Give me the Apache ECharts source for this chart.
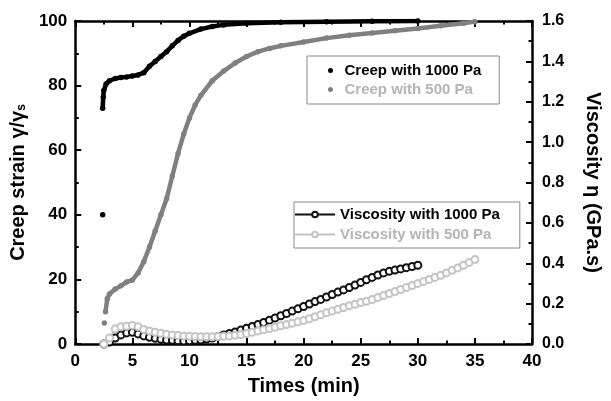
<!DOCTYPE html>
<html>
<head>
<meta charset="utf-8">
<script src="https://cdn.jsdelivr.net/npm/echarts@6/dist/echarts.min.js"></script>
<style>
html,body{margin:0;padding:0;background:#fff;}
#c{width:611px;height:401px;}
</style>
</head>
<body>
<div id="c"></div>
<script>
// ---- data ----
const seriesNames = ['Creep with 1000 Pa', 'Creep with 500 Pa', 'Viscosity with 1000 Pa', 'Viscosity with 500 Pa'];

// Creep 1000 Pa (time min, strain %) ; null = gap between isolated dots
const creep1000Time   = [2.4, 2.4, 2.4, 2.45, 2.5, 2.7, 3, 3.5, 4, 4.5, 5, 5.5, 6, 6.5, 7, 7.5, 8, 8.5, 9, 9.5, 10, 11, 12, 13, 15, 18, 22, 26, 30];
const creep1000Strain = [40, null, 73, 76.5, 78.5, 80.5, 81.5, 82.2, 82.5, 82.7, 83, 83.3, 84, 86, 87.5, 89, 90.5, 92.3, 94, 95.3, 96.2, 97.5, 98.3, 98.8, 99.3, 99.6, 99.8, 99.9, 100];

// Creep 500 Pa
const creep500Time   = [2.55, 2.6, 2.65, 2.8, 3, 3.5, 4, 4.5, 5, 5.5, 6, 6.5, 7, 7.5, 8, 8.5, 9, 9.5, 10, 10.5, 11, 12, 13, 14, 15, 16, 17, 18, 20, 22, 24, 26, 28, 30, 32, 34, 35];
const creep500Strain = [6.5, null, 10, 14, 15.5, 17, 18, 19.2, 19.8, 22, 25.5, 30, 35, 40, 45, 52, 59, 65, 70, 74, 77, 81.5, 84.5, 87, 89, 90.5, 91.5, 92.3, 93.5, 94.7, 95.6, 96.3, 97, 97.7, 98.5, 99.3, 99.8];

// Viscosity 1000 Pa (GPa.s), every 0.5 min from 2.5 to 30
const visc1000Time  = [2.5, 3, 3.5, 4, 4.5, 5, 5.5, 6, 6.5, 7, 7.5, 8, 8.5, 9, 9.5, 10, 10.5, 11, 11.5, 12, 12.5, 13, 13.5, 14, 14.5, 15, 15.5, 16, 16.5, 17, 17.5, 18, 18.5, 19, 19.5, 20, 20.5, 21, 21.5, 22, 22.5, 23, 23.5, 24, 24.5, 25, 25.5, 26, 26.5, 27, 27.5, 28, 28.5, 29, 29.5, 30];
const visc1000Value = [0, 0.01, 0.03, 0.045, 0.055, 0.058, 0.05, 0.04, 0.033, 0.028, 0.024, 0.02, 0.018, 0.016, 0.015, 0.016, 0.018, 0.02, 0.025, 0.03, 0.037, 0.045, 0.052, 0.06, 0.069, 0.078, 0.087, 0.097, 0.107, 0.118, 0.129, 0.14, 0.151, 0.163, 0.174, 0.186, 0.198, 0.21, 0.221, 0.233, 0.245, 0.257, 0.268, 0.28, 0.292, 0.305, 0.318, 0.33, 0.342, 0.352, 0.36, 0.366, 0.372, 0.378, 0.384, 0.39];

// Viscosity 500 Pa (GPa.s), every 0.5 min from 2.5 to 35
const visc500Time  = [2.5, 3, 3.5, 4, 4.5, 5, 5.5, 6, 6.5, 7, 7.5, 8, 8.5, 9, 9.5, 10, 10.5, 11, 11.5, 12, 12.5, 13, 13.5, 14, 14.5, 15, 15.5, 16, 16.5, 17, 17.5, 18, 18.5, 19, 19.5, 20, 20.5, 21, 21.5, 22, 22.5, 23, 23.5, 24, 24.5, 25, 25.5, 26, 26.5, 27, 27.5, 28, 28.5, 29, 29.5, 30, 30.5, 31, 31.5, 32, 32.5, 33, 33.5, 34, 34.5, 35];
const visc500Value = [0, 0.03, 0.075, 0.085, 0.088, 0.092, 0.085, 0.072, 0.064, 0.058, 0.053, 0.048, 0.045, 0.042, 0.04, 0.038, 0.037, 0.036, 0.036, 0.036, 0.037, 0.038, 0.04, 0.043, 0.047, 0.052, 0.058, 0.064, 0.07, 0.077, 0.083, 0.09, 0.096, 0.103, 0.11, 0.116, 0.125, 0.135, 0.145, 0.155, 0.163, 0.172, 0.181, 0.19, 0.197, 0.205, 0.212, 0.22, 0.23, 0.24, 0.25, 0.26, 0.27, 0.28, 0.29, 0.3, 0.31, 0.32, 0.33, 0.34, 0.352, 0.365, 0.377, 0.39, 0.404, 0.418];

// axis ranges [min, max, interval]
const xRange = [0, 40, 5];
const strainRange = [0, 100, 20];
const viscRange = [0, 1.6, 0.2];

function zip(t, v) { return t.map((x, i) => [x, v[i] === null ? '-' : v[i]]); }

const FONT = '"Liberation Sans", Arial, sans-serif';
const axisCommon = {
  axisLine: { show: true, onZero: false, lineStyle: { color: '#000', width: 2.5 } },
  axisTick: { show: true, inside: true, length: 6, lineStyle: { color: '#000', width: 2 } },
  minorTick: { show: true, splitNumber: 2, length: 3.5, lineStyle: { color: '#000', width: 2 } },
  splitLine: { show: false },
  axisLabel: { color: '#000', fontFamily: FONT, fontWeight: 'bold', fontSize: 17 }
};

const chart = echarts.init(document.getElementById('c'), null, { renderer: 'canvas' });
chart.setOption({
  animation: false,
  backgroundColor: '#fff',
  grid: { left: 72, right: 73, top: 21, bottom: 54, containLabel: false },
  legend: [
    {
      left: 307, top: 56, orient: 'vertical',
      padding: [7, 18, 7, 21], itemGap: 4,
      borderColor: '#888', borderWidth: 1,
      itemWidth: 18, itemHeight: 5,
      textStyle: { fontFamily: FONT, fontWeight: 'bold', fontSize: 15 },
      data: [
        { name: seriesNames[0], icon: 'circle', textStyle: { color: '#000' } },
        { name: seriesNames[1], icon: 'circle', textStyle: { color: '#b4b4b4' } }
      ]
    },
    {
      left: 294, top: 202, orient: 'vertical',
      padding: [5, 20, 6, 0], itemGap: 5,
      borderColor: '#888', borderWidth: 1,
      itemWidth: 40, itemHeight: 7,
      textStyle: { fontFamily: FONT, fontWeight: 'bold', fontSize: 15 },
      data: [
        { name: seriesNames[2], textStyle: { color: '#000' } },
        { name: seriesNames[3], textStyle: { color: '#b4b4b4' } }
      ]
    }
  ],
  xAxis: [
    Object.assign({}, axisCommon, {
      type: 'value', min: xRange[0], max: xRange[1], interval: xRange[2], position: 'bottom',
      name: 'Times (min)', nameLocation: 'middle', nameGap: 32,
      nameTextStyle: { color: '#000', fontFamily: FONT, fontWeight: 'bold', fontSize: 20 },
      axisLabel: Object.assign({}, axisCommon.axisLabel, { margin: 9 })
    }),
    Object.assign({}, axisCommon, {
      type: 'value', min: xRange[0], max: xRange[1], interval: xRange[2], position: 'top',
      axisLabel: { show: false }
    })
  ],
  yAxis: [
    Object.assign({}, axisCommon, {
      type: 'value', min: strainRange[0], max: strainRange[1], interval: strainRange[2], position: 'left',
      name: 'Creep strain γ/γ{s|s}', nameLocation: 'middle', nameGap: 40,
      nameTextStyle: { color: '#000', fontFamily: FONT, fontWeight: 'bold', fontSize: 20,
        rich: { s: { fontFamily: FONT, fontWeight: 'bold', fontSize: 12, verticalAlign: 'bottom', padding: [8, 0, 0, 0] } } },
      axisLabel: Object.assign({}, axisCommon.axisLabel, { margin: 8 })
    }),
    Object.assign({}, axisCommon, {
      type: 'value', min: viscRange[0], max: viscRange[1], interval: viscRange[2], position: 'right',
      name: 'Viscosity η (GPa.s)', nameLocation: 'middle', nameGap: 51, nameRotate: -90,
      nameTextStyle: { color: '#000', fontFamily: FONT, fontWeight: 'bold', fontSize: 20 },
      axisLabel: Object.assign({}, axisCommon.axisLabel, { margin: 10, fontSize: 16,
        formatter: v => v.toFixed(1) })
    })
  ],
  series: [
    {
      name: seriesNames[0], type: 'line', xAxisIndex: 0, yAxisIndex: 0,
      data: zip(creep1000Time, creep1000Strain),
      symbol: 'circle', symbolSize: 5.5, showSymbol: true, connectNulls: false,
      lineStyle: { color: '#000', width: 4.5 }, itemStyle: { color: '#000' }, z: 3
    },
    {
      name: seriesNames[1], type: 'line', xAxisIndex: 0, yAxisIndex: 0,
      data: zip(creep500Time, creep500Strain),
      symbol: 'circle', symbolSize: 5.5, showSymbol: true, connectNulls: false,
      lineStyle: { color: '#808080', width: 4.5 }, itemStyle: { color: '#808080' }, z: 3
    },
    {
      name: seriesNames[2], type: 'line', xAxisIndex: 0, yAxisIndex: 1,
      data: zip(visc1000Time, visc1000Value),
      symbol: 'emptyCircle', symbolSize: 7, showSymbol: true,
      lineStyle: { color: '#111', width: 2 }, itemStyle: { color: '#111', borderWidth: 1.5 }, z: 4
    },
    {
      name: seriesNames[3], type: 'line', xAxisIndex: 0, yAxisIndex: 1,
      data: zip(visc500Time, visc500Value),
      symbol: 'emptyCircle', symbolSize: 7, showSymbol: true,
      lineStyle: { color: '#c4c4c4', width: 2 }, itemStyle: { color: '#c4c4c4', borderWidth: 1.5 }, z: 4
    }
  ]
});
</script>
</body>
</html>
